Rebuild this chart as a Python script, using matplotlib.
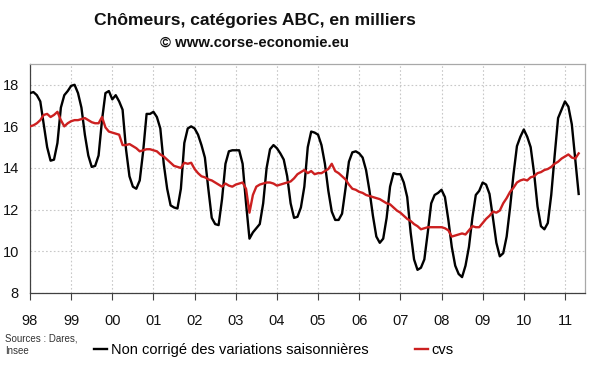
import matplotlib
matplotlib.use("Agg")
import matplotlib.pyplot as plt
from matplotlib.lines import Line2D
import numpy as np

plt.rcParams['font.family'] = ['Liberation Sans', 'DejaVu Sans']

start_year = 1998
year_ticks = list(range(1998, 2012))
year_labels = ['98', '99', '00', '01', '02', '03', '04', '05', '06', '07', '08', '09', '10', '11']
y_ticks = [8, 10, 12, 14, 16, 18]

# Monthly values, Jan 1998 .. May 2011 (thousands)
nsa = [
    # 1998
    17.6, 17.65, 17.5, 17.2, 16.1, 15.0, 14.35, 14.4, 15.2, 16.9, 17.5, 17.7,
    # 1999
    17.95, 18.0, 17.6, 16.9, 15.6, 14.6, 14.05, 14.1, 14.6, 16.3, 17.6, 17.7,
    # 2000
    17.3, 17.5, 17.2, 16.8, 14.9, 13.6, 13.1, 13.0, 13.4, 14.8, 16.6, 16.6,
    # 2001
    16.7, 16.45, 15.9, 14.2, 13.0, 12.2, 12.1, 12.05, 13.0, 15.2, 15.9, 16.0,
    # 2002
    15.9, 15.6, 15.1, 14.5, 13.0, 11.6, 11.3, 11.25, 12.5, 14.2, 14.8, 14.85,
    # 2003
    14.85, 14.85, 14.2, 12.3, 10.6, 10.9, 11.1, 11.3, 12.3, 14.0, 14.9, 15.1,
    # 2004
    14.95, 14.7, 14.4, 13.6, 12.3, 11.6, 11.65, 12.1, 13.1, 15.0, 15.75, 15.7,
    # 2005
    15.6, 15.1, 14.2, 12.9, 11.9, 11.5, 11.5, 11.8, 13.0, 14.3, 14.75, 14.8,
    # 2006
    14.7, 14.5, 13.9, 12.9, 11.7, 10.7, 10.4, 10.6, 11.6, 13.1, 13.75, 13.7,
    # 2007
    13.7, 13.3, 12.6, 10.9, 9.6, 9.1, 9.2, 9.6, 10.9, 12.3, 12.7, 12.8,
    # 2008
    12.95, 12.6, 11.5, 10.2, 9.3, 8.9, 8.75, 9.3, 10.2, 11.6, 12.7, 12.9,
    # 2009
    13.3, 13.2, 12.75, 11.6, 10.4, 9.75, 9.9, 10.7, 12.1, 13.7, 15.05, 15.5,
    # 2010
    15.85, 15.5, 15.0, 13.75, 12.15, 11.2, 11.05, 11.35, 12.7, 14.6, 16.4, 16.8,
    # 2011
    17.2, 16.95, 16.1, 14.4, 12.75,
]

cvs = [
    # 1998
    16.0, 16.05, 16.15, 16.3, 16.55, 16.6, 16.45, 16.55, 16.7, 16.3, 16.0, 16.15,
    # 1999
    16.25, 16.3, 16.3, 16.35, 16.4, 16.3, 16.2, 16.15, 16.15, 16.45, 15.95, 15.75,
    # 2000
    15.7, 15.65, 15.6, 15.1, 15.1, 15.15, 15.05, 14.95, 14.8, 14.85, 14.9, 14.9,
    # 2001
    14.85, 14.8, 14.65, 14.55, 14.4, 14.25, 14.1, 14.05, 14.0, 14.25, 14.2, 14.25,
    # 2002
    13.95, 13.75, 13.6, 13.55, 13.45, 13.4, 13.3, 13.2, 13.1, 13.25, 13.15, 13.1,
    # 2003
    13.2, 13.25, 13.3, 13.0, 11.85, 12.7, 13.1, 13.2, 13.25, 13.3, 13.3, 13.25,
    # 2004
    13.15, 13.2, 13.25, 13.3, 13.35, 13.5, 13.7, 13.8, 13.9, 13.75, 13.85, 13.7,
    # 2005
    13.75, 13.75, 13.85, 13.95, 14.2, 13.85, 13.75, 13.6, 13.45, 13.2, 13.0, 12.95,
    # 2006
    12.85, 12.8, 12.7, 12.65, 12.6, 12.55, 12.5, 12.4, 12.3, 12.25, 12.1, 11.95,
    # 2007
    11.85, 11.7, 11.55, 11.45, 11.3, 11.2, 11.05, 11.1, 11.15, 11.15, 11.15, 11.15,
    # 2008
    11.15, 11.1, 11.0, 10.7, 10.75, 10.8, 10.85, 10.8, 11.0, 11.2, 11.15, 11.15,
    # 2009
    11.35, 11.55, 11.7, 11.9, 11.85, 11.95, 12.3, 12.55, 12.85, 13.05, 13.3, 13.4,
    # 2010
    13.45, 13.4, 13.55, 13.6, 13.75, 13.8, 13.9, 13.95, 14.05, 14.2, 14.3, 14.45,
    # 2011
    14.55, 14.65, 14.5, 14.45, 14.7,
]

t = start_year + np.arange(len(nsa)) / 12.0

fig = plt.figure(figsize=(6.0, 3.72), dpi=100)
ax = fig.add_axes([30/600, 1 - 292.7/372, 555/600, (292.7 - 64)/372])

ax.plot(t, nsa, color='black', lw=1.7, zorder=3)
ax.plot(t, cvs, color='#cc2020', lw=1.7, zorder=4)

ax.set_xlim(1998, 1998 + 555/41.15)
ax.set_ylim(8, 19)
ax.set_xticks(year_ticks)
ax.set_xticklabels(year_labels)
ax.set_yticks(y_ticks)
ax.set_yticklabels([str(v) for v in y_ticks])

ax.grid(True, color='#c8c8c8', linestyle=(0, (1.5, 2)), linewidth=0.8)
ax.set_axisbelow(True)
ax.tick_params(axis='x', direction='out', length=5, width=0.8, color='#404040', pad=10,
               labelsize=10.5, labelcolor='#111111')
ax.tick_params(axis='y', length=0, pad=8, labelsize=10.5, labelcolor='#111111')
for s in ['left', 'bottom']:
    ax.spines[s].set_color('#404040')
    ax.spines[s].set_linewidth(0.9)
for s in ['top', 'right']:
    ax.spines[s].set_color('#a8a8a8')
    ax.spines[s].set_linewidth(0.9)

fig.text(255/600, 1 - 20/372, 'Chômeurs, catégories ABC, en milliers', ha='center', va='center',
         fontsize=12.6, fontweight='bold', color='#111111')
fig.text(254/600, 1 - 43/372, '© www.corse-economie.eu', ha='center', va='center',
         fontsize=10.7, fontweight='bold', color='#111111')

fig.text(5/600, 1 - 345/372, 'Sources : Dares,\nInsee', ha='left', va='center',
         fontsize=7, color='#333333', linespacing=1.3)

handles = [Line2D([], [], color='black', lw=1.7), Line2D([], [], color='#cc2020', lw=1.7)]
labels = ['Non corrigé des variations saisonnières', 'cvs']
fig.legend(handles, labels, ncol=2, loc='center', bbox_to_anchor=(274/600, 1 - 350/372),
           frameon=False, fontsize=10.5, handlelength=0.9, handletextpad=0.25,
           columnspacing=3.2, borderpad=0, borderaxespad=0)

fig.savefig('out.png', dpi=100, facecolor='white')
